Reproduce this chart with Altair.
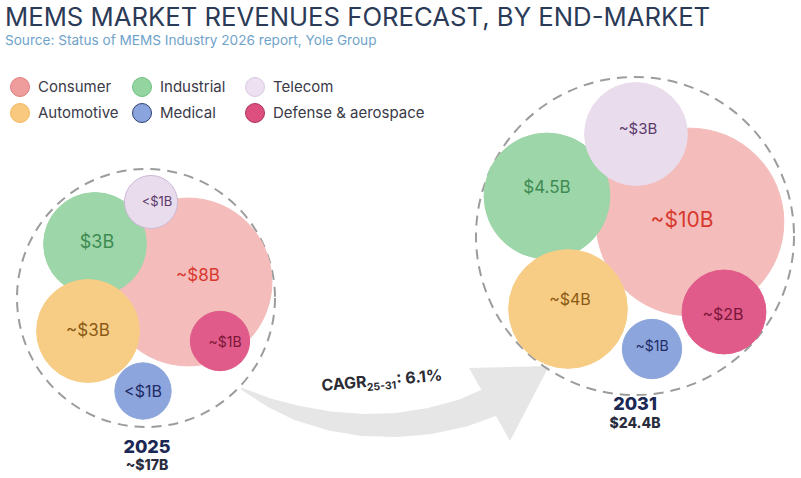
import math
import altair as alt
import pandas as pd

W, H = 801, 478
FONT = "Inter"

# ---------------- data ----------------
markets = ["Consumer", "Industrial", "Telecom", "Automotive", "Medical", "Defense & aerospace"]
years = ["2025", "2031"]
revenue_2025 = [8.0, 3.0, 0.8, 3.0, 0.9, 1.0]      # $B
revenue_2031 = [10.0, 4.5, 3.0, 4.0, 1.0, 2.0]     # $B
labels_2025 = ["~$8B", "$3B", "<$1B", "~$3B", "<$1B", "~$1B"]
labels_2031 = ["~$10B", "$4.5B", "~$3B", "~$4B", "~$1B", "~$2B"]
totals = ["~$17B", "$24.4B"]
cagr_parts = ["CAGR", "25-31", ": 6.1%"]
title_text = "MEMS MARKET REVENUES FORECAST, BY END-MARKET"
subtitle_text = "Source: Status of MEMS Industry 2026 report, Yole Group"

# ---------------- styles ----------------
bubble_fill = ["#f4bdbb", "#9dd6a8", "#e9dcec", "#f7cd86", "#8ca5dc", "#e05a8a"]
outline_2025 = ["#f4bdbb", "#9dd6a8", "#cdb8d8", "#f7cd86", "#8ca5dc", "#e05a8a"]
outline_2031 = bubble_fill
label_color = ["#d8382e", "#3e8a52", "#5b3a6b", "#8a5a14", "#1e2b66", "#7a1638"]
legend_fill = ["#ef9c9c", "#93d4a0", "#ede0f0", "#f8c97e", "#8aa4de", "#dd4f7e"]
legend_stroke = ["#e07f80", "#72c182", "#d9c9e2", "#f2b85e", "#2f3f72", "#a8325c"]
AREA_PER_B = 880  # px^2 of r^2 per $B

# ---------------- layout (pixel space) ----------------
pack_2025 = [(188, 282), (95, 244), (151, 202), (88, 331), (143, 391), (220, 341)]
pack_2031 = [(690, 222), (547, 196), (636, 134), (568, 309), (652, 349), (724, 312)]
label_shift_2025 = [(10, -6), (2, -1), (6, 0), (0, 0), (0, 1), (5, 2)]
label_shift_2031 = [(-8, -1), (0, -8), (2, -5), (2, -9), (0, -2), (-1, 3)]
label_size_2025 = [17, 18, 13, 17, 16, 14]
label_size_2031 = [21, 17, 15, 16, 14, 16]
rings = [(146, 298, 129), (635, 236, 159)]
year_pos = [(147, 453, 470), (635, 410, 428)]
legend_cols = [20, 142, 255]
legend_rows = [87, 113]
legend_grid = [(0, 0), (1, 0), (2, 0), (0, 1), (1, 1), (2, 1)]
arrow_path = [(242, 389, 2), (270, 403, 9), (297, 413, 15), (330, 421, 19),
              (363, 425, 22), (397, 425, 24), (430, 421, 26), (463, 413, 28),
              (496, 400, 30)]
arrow_head = [(469, 368, 368), (510, 367, 441), (549, 366, 366)]
cagr_anchor = (322, 391)
cagr_angle = -5.0
ARROW_GREY = "#e6e6e6"

XS = alt.Scale(domain=[0, W], range=[0, W], nice=False, zero=False)
YS = alt.Scale(domain=[0, H], range=[0, H], nice=False, zero=False)
X = alt.X("x:Q", scale=XS, axis=None)
Y = alt.Y("y:Q", scale=YS, axis=None)

# ---------------- bubbles ----------------
rows = []
z = 0
for yr, vals, labs, pack, shifts, sizes, outline in [
    ("2025", revenue_2025, labels_2025, pack_2025, label_shift_2025, label_size_2025, outline_2025),
    ("2031", revenue_2031, labels_2031, pack_2031, label_shift_2031, label_size_2031, outline_2031),
]:
    for i, m in enumerate(markets):
        cx, cy = pack[i]
        rows.append(dict(year=yr, market=m, revenue=vals[i], label=labs[i], x=cx, y=cy,
                         lx=cx + shifts[i][0], ly=cy + shifts[i][1], fs=sizes[i],
                         fill=bubble_fill[i], stroke=outline[i],
                         lc=label_color[i], z=z))
        z += 1
bub = pd.DataFrame(rows)

bubbles = alt.Chart(bub).mark_circle(opacity=1, strokeWidth=1).encode(
    x=X, y=Y,
    size=alt.Size("revenue:Q", scale=alt.Scale(type="linear", domain=[0, 10],
                                               range=[0, 4 * AREA_PER_B * 10]), legend=None),
    color=alt.Color("fill:N", scale=None),
    stroke=alt.Stroke("stroke:N", scale=None),
    order=alt.Order("z:Q"),
)

bubble_labels = alt.Chart(bub).mark_text(font=FONT, fontWeight=400, align="center",
                                         baseline="middle").encode(
    x=alt.X("lx:Q", scale=XS, axis=None),
    y=alt.Y("ly:Q", scale=YS, axis=None),
    text="label:N",
    size=alt.Size("fs:Q", scale=None),
    color=alt.Color("lc:N", scale=None),
)

# ---------------- dashed totals rings ----------------
ring_df = pd.DataFrame([dict(year=years[k], x=cx, y=cy, s=4 * r * r)
                        for k, (cx, cy, r) in enumerate(rings)])
ring_layer = alt.Chart(ring_df).mark_point(shape="circle", filled=False, opacity=1,
                                           strokeWidth=2, strokeDash=[10, 7],
                                           color="#9c9c9c").encode(
    x=X, y=Y, size=alt.Size("s:Q", scale=None))

# ---------------- year / totals ----------------
yr_df = pd.DataFrame([dict(t=years[k], x=p[0], y=p[1]) for k, p in enumerate(year_pos)])
tot_df = pd.DataFrame([dict(t=totals[k], x=p[0], y=p[2]) for k, p in enumerate(year_pos)])
year_text = alt.Chart(yr_df).mark_text(font=FONT, fontWeight=800, fontSize=18,
                                       color="#1b2754", align="center",
                                       baseline="alphabetic").encode(x=X, y=Y, text="t:N")
total_text = alt.Chart(tot_df).mark_text(font=FONT, fontWeight=800, fontSize=14,
                                         color="#2a2d3e", align="center",
                                         baseline="alphabetic").encode(x=X, y=Y, text="t:N")

# ---------------- growth arrow ----------------
trail_df = pd.DataFrame([dict(i=k, x=p[0], y=p[1], w=p[2]) for k, p in enumerate(arrow_path)])
trail = alt.Chart(trail_df).mark_trail(color=ARROW_GREY, opacity=1).encode(
    x=X, y=Y, size=alt.Size("w:Q", scale=None), order=alt.Order("i:Q"))
head_df = pd.DataFrame([dict(x=p[0], y=p[1], y2=p[2]) for p in arrow_head])
head = alt.Chart(head_df).mark_area(color=ARROW_GREY, opacity=1).encode(
    x=X, y=Y, y2="y2:Q")

# CAGR caption along a slightly tilted baseline
ca = math.radians(cagr_angle)
def along(d, drop=0.0):
    return (cagr_anchor[0] + d * math.cos(ca) - drop * math.sin(ca),
            cagr_anchor[1] + d * math.sin(ca) + drop * math.cos(ca))
p0, p1, p2 = along(0), along(45, 4), along(75)
cagr_big = pd.DataFrame([dict(t=cagr_parts[0], x=p0[0], y=p0[1]),
                         dict(t=cagr_parts[2], x=p2[0], y=p2[1])])
cagr_small = pd.DataFrame([dict(t=cagr_parts[1], x=p1[0], y=p1[1])])
cagr_main = alt.Chart(cagr_big).mark_text(font=FONT, fontWeight=700, fontSize=16,
                                          color="#2b2b33", align="left",
                                          baseline="alphabetic",
                                          angle=360 + cagr_angle).encode(x=X, y=Y, text="t:N")
cagr_sub = alt.Chart(cagr_small).mark_text(font=FONT, fontWeight=700, fontSize=10.5,
                                           color="#2b2b33", align="left",
                                           baseline="alphabetic",
                                           angle=360 + cagr_angle).encode(x=X, y=Y, text="t:N")

# ---------------- legend ----------------
leg_df = pd.DataFrame([dict(market=m, x=legend_cols[legend_grid[i][0]],
                            y=legend_rows[legend_grid[i][1]],
                            tx=legend_cols[legend_grid[i][0]] + 18,
                            fill=legend_fill[i], stroke=legend_stroke[i])
                       for i, m in enumerate(markets)])
leg_dots = alt.Chart(leg_df).mark_point(shape="circle", filled=True, opacity=1,
                                        size=4 * 9.5 * 9.5, strokeWidth=1).encode(
    x=X, y=Y, fill=alt.Fill("fill:N", scale=None), stroke=alt.Stroke("stroke:N", scale=None))
leg_text = alt.Chart(leg_df).mark_text(font=FONT, fontSize=15, color="#3a3a48",
                                       align="left", baseline="middle").encode(
    x=alt.X("tx:Q", scale=XS, axis=None), y=Y, text="market:N")

# ---------------- heading ----------------
head_df2 = pd.DataFrame([dict(t=title_text, x=5, y=26)])
sub_df = pd.DataFrame([dict(t=subtitle_text, x=5, y=45)])
title = alt.Chart(head_df2).mark_text(font=FONT, fontWeight=400, fontSize=25.7,
                                      color="#2b3a57", align="left",
                                      baseline="alphabetic").encode(x=X, y=Y, text="t:N")
subtitle = alt.Chart(sub_df).mark_text(font=FONT, fontSize=13.6, color="#6fa3c9",
                                       align="left", baseline="alphabetic").encode(
    x=X, y=Y, text="t:N")

chart = alt.layer(
    trail, head, ring_layer, bubbles, bubble_labels, year_text, total_text,
    cagr_main, cagr_sub, leg_dots, leg_text, title, subtitle,
).properties(
    width=W, height=H, padding=0, autosize=alt.AutoSizeParams(type="none"),
    background="white",
).configure_view(stroke=None)

chart.save("out.html", embed_options={"renderer": "svg", "actions": False})
